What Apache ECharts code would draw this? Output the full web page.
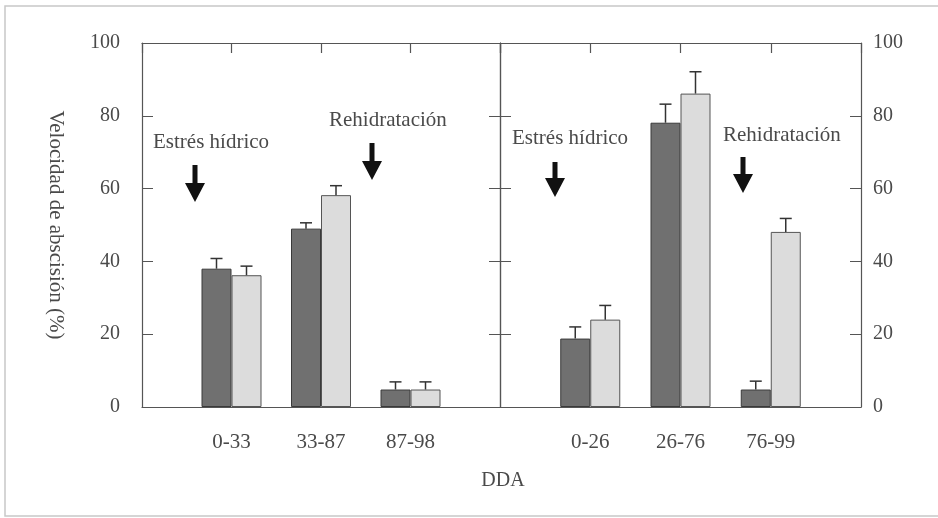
<!DOCTYPE html>
<html><head><meta charset="utf-8">
<script src="https://cdn.jsdelivr.net/npm/echarts@6/dist/echarts.min.js"></script>
<style>html,body{margin:0;padding:0;background:#fff}#c{width:938px;height:518px}</style>
</head><body><div id="c"></div>
<script>
// Categories (empty end slots give the padding on each side of a panel)
const catsLeft = ['', '0-33', '33-87', '87-98', ''];
const catsRight = ['', '0-26', '26-76', '76-99', ''];
// Dark (first) and light (second) bars, per panel
const leftDark = [null, 38, 49, 4.8, null];
const leftLight = [null, 36.2, 58.2, 4.8, null];
const rightDark = [null, 18.8, 78.1, 4.8, null];
const rightLight = [null, 24.0, 86.1, 48.1, null];
// Top of the error bars
const leftDarkErr = [null, 40.8, 50.6, 6.9, null];
const leftLightErr = [null, 38.7, 60.8, 6.9, null];
const rightDarkErr = [null, 22.0, 83.2, 7.1, null];
const rightLightErr = [null, 27.9, 92.1, 51.8, null];
const yTicks = [0, 20, 40, 60, 80, 100];

const FONT = '"Liberation Serif", "DejaVu Serif", serif';
const TXT = '#4a4a4a';
const AX = '#555';
const BW = 30;

function errData(vals, errs) {
  const out = [];
  vals.forEach((v, i) => { if (v != null) out.push([i, v, errs[i]]); });
  return out;
}
function errSeries(xi, yi, vals, errs, off) {
  return {
    type: 'custom', xAxisIndex: xi, yAxisIndex: yi, z: 5,
    data: errData(vals, errs),
    renderItem: function (params, api) {
      const p0 = api.coord([api.value(0), api.value(1)]);
      const p1 = api.coord([api.value(0), api.value(2)]);
      const cx = p0[0] + off;
      const st = { stroke: '#333', lineWidth: 1.5 };
      return { type: 'group', children: [
        { type: 'line', shape: { x1: cx, y1: p0[1], x2: cx, y2: p1[1] }, style: st },
        { type: 'line', shape: { x1: cx - 6, y1: p1[1], x2: cx + 6, y2: p1[1] }, style: st }
      ]};
    }
  };
}
function barSeries(xi, yi, data, dark) {
  return {
    type: 'bar', xAxisIndex: xi, yAxisIndex: yi, data: data, barWidth: BW, barGap: '0%',
    itemStyle: dark ? { color: '#707070', borderColor: '#3a3a3a', borderWidth: 1 }
                    : { color: '#dcdcdc', borderColor: '#555', borderWidth: 1 }
  };
}
function xBottom(grid, cats) {
  return {
    type: 'category', gridIndex: grid, data: cats, boundaryGap: false, position: 'bottom',
    axisLine: { show: true, onZero: false, lineStyle: { color: AX, width: 1.2 } },
    axisTick: { show: false },
    axisLabel: { margin: 25, fontFamily: FONT, fontSize: 21, color: TXT, interval: 0 },
    splitLine: { show: false }
  };
}
function xTop(grid, cats) {
  return {
    type: 'category', gridIndex: grid, data: cats, boundaryGap: false, position: 'top',
    axisLine: { show: true, onZero: false, lineStyle: { color: AX, width: 1.2 } },
    axisTick: { show: true, inside: true, length: 10, interval: 0, lineStyle: { color: AX, width: 1.2 } },
    axisLabel: { show: false }, splitLine: { show: false }
  };
}
function yAx(grid, pos, labels, extra) {
  return Object.assign({
    type: 'value', gridIndex: grid, position: pos, min: yTicks[0], max: yTicks[yTicks.length - 1], interval: 20,
    axisLine: { show: true, onZero: false, lineStyle: { color: AX, width: 1.2 } },
    axisTick: { show: true, inside: true, length: 11, lineStyle: { color: AX } },
    axisLabel: { show: labels, fontFamily: FONT, fontSize: 20, color: TXT, margin: pos === 'left' ? 22 : 12 },
    splitLine: { show: false }
  }, extra || {});
}
function arrow(x, y0, y1) {
  const hs = y1 - 19;
  return { type: 'polygon', shape: { points: [[x - 2.5, y0], [x + 2.5, y0], [x + 2.5, hs], [x + 10, hs], [x, y1], [x - 10, hs], [x - 2.5, hs]] },
    style: { fill: '#111' } };
}
function label(text, x, y) {
  return { type: 'text', x: x, y: y, style: { text: text, fill: TXT, font: '21px ' + FONT, textVerticalAlign: 'middle' } };
}

const chart = echarts.init(document.getElementById('c'));
chart.setOption({
  animation: false,
  backgroundColor: '#fff',
  grid: [
    { left: 142, top: 43, width: 358, height: 364 },
    { left: 500, top: 43, width: 361, height: 364 }
  ],
  xAxis: [xBottom(0, catsLeft), xTop(0, catsLeft), xBottom(1, catsRight), xTop(1, catsRight)],
  yAxis: [
    yAx(0, 'left', true, { name: 'Velocidad de abscisión (%)', nameLocation: 'middle', nameRotate: -90, nameGap: 76,
      nameTextStyle: { fontFamily: FONT, fontSize: 21, color: TXT } }),
    yAx(0, 'right', false),
    yAx(1, 'left', false),
    yAx(1, 'right', true)
  ],
  series: [
    barSeries(0, 0, leftDark, true), barSeries(0, 0, leftLight, false),
    barSeries(2, 2, rightDark, true), barSeries(2, 2, rightLight, false),
    errSeries(0, 0, leftDark, leftDarkErr, -BW / 2), errSeries(0, 0, leftLight, leftLightErr, BW / 2),
    errSeries(2, 2, rightDark, rightDarkErr, -BW / 2), errSeries(2, 2, rightLight, rightLightErr, BW / 2)
  ],
  graphic: [
    { type: 'polyline', shape: { points: [[938, 6], [5, 6], [5, 516], [938, 516]] }, style: { stroke: '#c8c8c8', lineWidth: 1.5, fill: null } },
    label('Estrés hídrico', 153, 142), arrow(195, 165, 202),
    label('Rehidratación', 329, 120), arrow(372, 143, 180),
    label('Estrés hídrico', 512, 138), arrow(555, 162, 197),
    label('Rehidratación', 723, 135), arrow(743, 157, 193),
    { type: 'text', x: 503, y: 481, style: { text: 'DDA', fill: TXT, font: '20px ' + FONT, textAlign: 'center', textVerticalAlign: 'middle' } }
  ]
});
</script></body></html>
